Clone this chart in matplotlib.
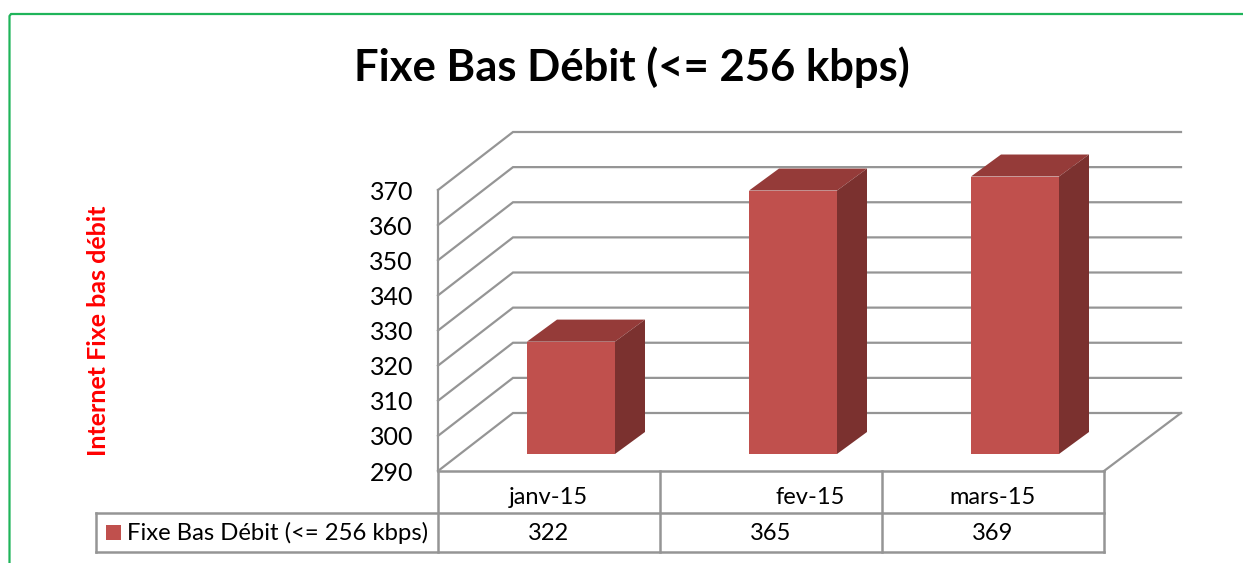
import matplotlib
matplotlib.use('Agg')
import matplotlib.pyplot as plt
from matplotlib.patches import Polygon, Rectangle

plt.rcParams['font.family'] = ['Lato', 'DejaVu Sans']

# data
months = ['janv-15', 'fev-15', 'mars-15']
values = [322, 365, 369]
ticks = [290, 300, 310, 320, 330, 340, 350, 360, 370]
series_name = 'Fixe Bas Débit (<= 256 kbps)'
title = 'Fixe Bas Débit (<= 256 kbps)'
ylabel = 'Internet Fixe bas débit'

W, H = 1243, 563
GREY = '#959595'
FRONT = '#c0504d'
TOP = '#953b39'
SIDE = '#7b312f'

fig = plt.figure(figsize=(W / 100, H / 100), dpi=100)

# overlay in pixels for the frame, the table and the texts
bg = fig.add_axes([0, 0, 1, 1])
bg.set_xlim(0, W)
bg.set_ylim(H, 0)
bg.axis('off')

# front plane of the 3d box: categories on x, values on y
x0, x1, y0, y1 = 438, 1104, 471, 190
ax = fig.add_axes([x0 / W, 1 - y0 / H, (x1 - x0) / W, (y0 - y1) / H])
ax.set_xlim(-0.5, 2.5)
ax.set_ylim(ticks[0], ticks[-1])
ax.axis('off')
ax.patch.set_alpha(0)

# pixel sizes to data units
px_x = 3 / (x1 - x0)
px_y = (ticks[-1] - ticks[0]) / (y0 - y1)
depth_x, depth_y = 75 * px_x, 58 * px_y
right_x = 2.5 + 77 * px_x

# walls
for t in ticks:
    ax.plot([-0.5, -0.5 + depth_x, right_x], [t, t + depth_y, t + depth_y],
            color=GREY, lw=1.6, clip_on=False, zorder=1, solid_joinstyle='miter')
ax.plot([-0.5, -0.5], [ticks[0], ticks[-1]], color=GREY, lw=1.6, clip_on=False, zorder=1)
# floor
ax.plot([2.5, right_x], [ticks[0], ticks[0] + depth_y], color=GREY, lw=1.6, clip_on=False, zorder=1)
ax.plot([-0.5, 2.5], [ticks[0], ticks[0]], color=GREY, lw=1.8, clip_on=False, zorder=1)

# bars
bar_w = 88 * px_x
shift_x = 22 * px_x
shift_y = 17 * px_y
side_x, side_y = 30 * px_x, 22 * px_y
for i, v in enumerate(values):
    left = i + shift_x - bar_w / 2
    right = left + bar_w
    low = ticks[0] + shift_y
    top = v + shift_y
    ax.add_patch(Rectangle((left, low), bar_w, v - ticks[0], fc=FRONT, ec='none', zorder=3, clip_on=False))
    ax.add_patch(Polygon([(left, top), (right, top), (right + side_x, top + side_y), (left + side_x, top + side_y)],
                         fc=TOP, ec='none', zorder=3, clip_on=False))
    ax.add_patch(Polygon([(right, low), (right + side_x, low + side_y), (right + side_x, top + side_y), (right, top)],
                         fc=SIDE, ec='none', zorder=3, clip_on=False))

# tick labels
for t in ticks:
    ax.annotate(str(t), (-0.5, t), xytext=(-18, -1.5), textcoords='offset points',
                ha='right', va='center', fontsize=18, color='black', annotation_clip=False)

# data table
row_top, row_bot, legend_left = 513, 552, 96
cols = [438, 660, 882, 1104]
bg.plot([legend_left, 1104], [row_top, row_top], color=GREY, lw=1.8)
bg.plot([legend_left, 1104], [row_bot, row_bot], color=GREY, lw=1.8)
bg.plot([legend_left, legend_left], [row_top, row_bot], color=GREY, lw=1.8)
for c in cols:
    bg.plot([c, c], [471, row_bot], color=GREY, lw=1.8)
bg.add_patch(Rectangle((106, 525), 15, 15, fc=FRONT, ec='none'))
bg.text(127, 533, series_name, fontsize=17.2, ha='left', va='center', color='black')

month_x = [548, 810, 993]
for m, xm in zip(months, month_x):
    bg.text(xm, 498, m, fontsize=17, ha='center', va='center', color='black')
val_x = [548, 771, 993]
for v, xv in zip(values, val_x):
    bg.text(xv, 533, str(v), fontsize=17, ha='center', va='center', color='black')

# title, axis name
bg.text(632, 67, title, fontsize=31.4, fontweight='bold', ha='center', va='center', color='black')
bg.text(99, 331, ylabel, fontsize=18, fontweight='bold', rotation=90, ha='center', va='center', color='#ff0000')

# green frame
bg.plot([9.5, 9.5, 11, W], [H, 16, 14, 14], color='#1fb45a', lw=1.6)

fig.savefig('out.png', dpi=100)
